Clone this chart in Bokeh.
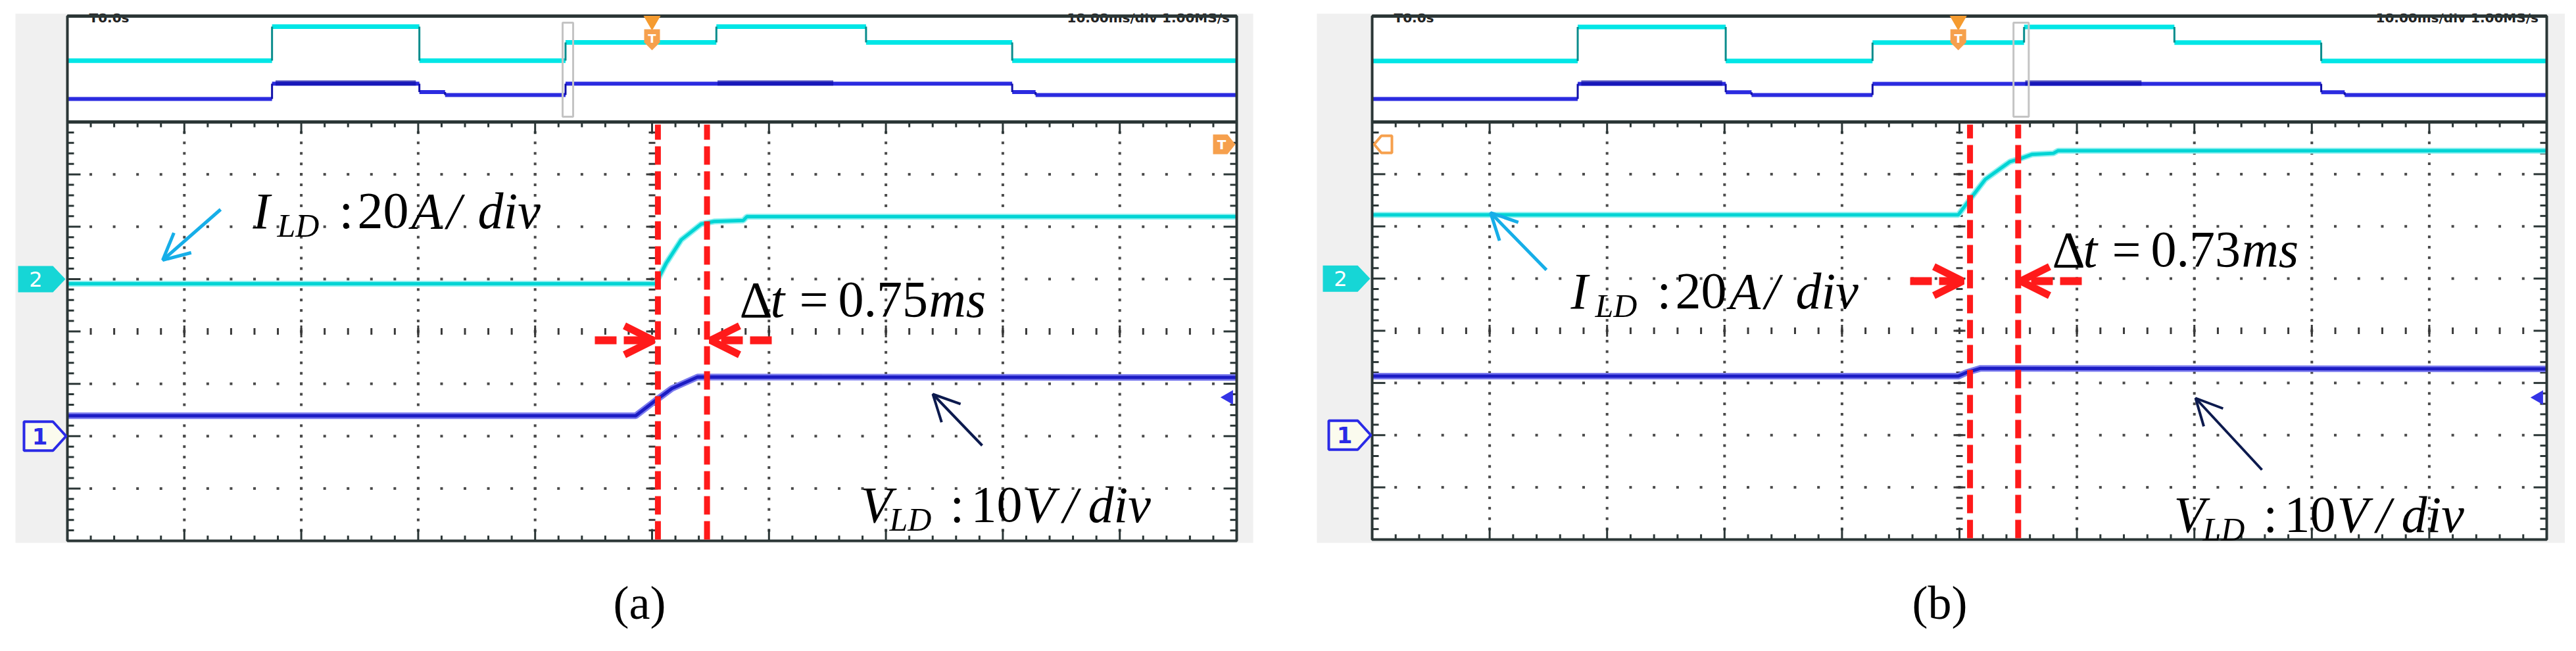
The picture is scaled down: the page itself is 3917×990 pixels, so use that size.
import numpy as np
from bokeh.plotting import figure
from bokeh.layouts import row
from bokeh.models import Range1d, Arrow, OpenHead
from bokeh.core.properties import value
from bokeh.embed import file_html
from bokeh.resources import INLINE

# ---------------- data (oscilloscope divisions) ----------------
# zoomed-out record (top strip), levels per interval, relative to strip bottom
ov_cyan_t = [0.0, 1.75, 3.01, 4.26, 5.55, 6.83, 8.08, 10.0]
ov_cyan_v = [1.17, 1.82, 1.17, 1.52, 1.82, 1.52, 1.17]
ov_blue_t = [0.0, 1.75, 3.01, 3.23, 4.26, 8.08, 8.28, 10.0]
ov_blue_v = [0.44, 0.73, 0.57, 0.515, 0.73, 0.57, 0.515]
ov_blue_noise = [(1.78, 2.98), (5.56, 6.55)]

# panel (a) main traces
a_cyan_t = [0.0, 5.03, 5.12, 5.25, 5.42, 5.53, 5.78, 5.81, 10.0]
a_cyan_v = [4.91, 4.91, 5.30, 5.75, 6.05, 6.10, 6.12, 6.19, 6.19]
a_blue_t = [0.0, 4.86, 5.03, 5.17, 5.39, 10.0]
a_blue_v = [2.39, 2.39, 2.68, 2.91, 3.13, 3.12]
a_cursors = [5.05, 5.47]
a_window = [4.235, 4.325]
a_trigger = 5.0
a_trig_level = 2.74

# panel (b) main traces
b_cyan_t = [0.0, 4.99, 5.08, 5.22, 5.43, 5.52, 5.62, 5.80, 5.84, 10.0]
b_cyan_v = [6.22, 6.22, 6.49, 6.90, 7.24, 7.30, 7.38, 7.40, 7.45, 7.45]
b_blue_t = [0.0, 4.99, 5.06, 5.18, 10.0]
b_blue_v = [3.13, 3.13, 3.20, 3.28, 3.27]
b_cursors = [5.09, 5.50]
b_window = [5.46, 5.59]
b_trigger = 4.99
b_trig_level = 2.72

ch2_ref = 5.0
ch1_ref = 2.0

CYAN = "#00e6e6"
CYAN_EDGE = "#0a8c8c"
BLUE = "#2b2be0"
BLUE_DARK = "#1010a8"
RED = "#ff1a1a"
ORANGE = "#f6a04d"
FRAME = "#2b3636"
GRAY = "#f0f0f0"
SERIF = "Liberation Serif"
BIG, SMALL = 78, 50

W, H = 1950, 972


def make_panel(g, cyan_t, cyan_v, blue_t, blue_v, cursors, window, trig, trig_level):
    L, R, T, B = g["L"], g["R"], g["T"], g["B"]

    def X(px):
        return (px - L) / (R - L) * 10.0

    def Y(py):
        return (B - py) / (B - T) * 8.0

    def dxp(n):
        return n / (R - L) * 10.0

    def dyp(n):
        return n / (B - T) * 8.0

    x0 = g["fx"]
    p = figure(width=W, height=H, x_range=Range1d(X(x0), X(x0 + W)),
               y_range=Range1d(Y(8 + H), Y(8)), output_backend="svg",
               toolbar_location=None, tools="", min_border=0,
               x_axis_location=None, y_axis_location=None,
               outline_line_color=None, background_fill_color="white",
               border_fill_color="white")
    p.xgrid.visible = False
    p.ygrid.visible = False

    top = Y(g["top"])
    gl, gr, gt, gb = g["gray"]
    p.quad(left=[X(gl)], right=[X(gr)], top=[Y(gt)], bottom=[Y(gb)],
           fill_color=GRAY, line_color=None)
    p.quad(left=[0], right=[10], bottom=[0], top=[top], fill_color="white", line_color=None)

    # cut-off status text above the top strip
    for (s, px) in g["status"]:
        p.text(x=[X(px)], y=[Y(34)], text=[s], text_font=value("DejaVu Sans"),
               text_font_size=value("20px"), text_font_style="bold", text_color="#222222",
               text_align="left", text_baseline="alphabetic")
    p.quad(left=[X(x0)], right=[X(x0 + W)], bottom=[Y(gt)], top=[Y(0)],
           fill_color="white", line_color=None)

    # graticule
    ys = np.arange(1, 40) * 0.2
    xs = np.arange(1, 50) * 0.2
    dx, dy = [], []
    for j in [1, 2, 3, 4, 6, 7, 8, 9]:
        dx += [j] * len(ys)
        dy += list(ys)
    for i in [1, 2, 3, 5, 6, 7]:
        dx += list(xs)
        dy += [i] * len(xs)
    p.scatter(x=dx, y=dy, marker="square", size=4, fill_color="#4a4a4a", line_color=None)
    p.scatter(x=[5] * len(ys), y=ys, marker="dash", size=10, line_color="#3a3a3a", line_width=3)
    p.scatter(x=xs, y=[4] * len(xs), marker="dash", angle=np.pi / 2, size=10,
              line_color="#3a3a3a", line_width=3)
    p.scatter(x=[5] * 7, y=[1, 2, 3, 4, 5, 6, 7], marker="dash", size=18,
              line_color="#3a3a3a", line_width=3)
    p.scatter(x=[1, 2, 3, 4, 6, 7, 8, 9], y=[4] * 8, marker="dash", angle=np.pi / 2, size=18,
              line_color="#3a3a3a", line_width=3)

    # border ticks
    k = np.arange(1, 50)
    tl = np.where(k % 5 == 0, dyp(18), dyp(8))
    p.segment(x0=k * 0.2, x1=k * 0.2, y0=8, y1=8 - tl, line_color=FRAME, line_width=3)
    p.segment(x0=k * 0.2, x1=k * 0.2, y0=0, y1=tl, line_color=FRAME, line_width=3)
    m = np.arange(1, 40)
    ll = np.where(m % 5 == 0, dxp(20), dxp(10))
    p.segment(x0=0, x1=ll, y0=m * 0.2, y1=m * 0.2, line_color=FRAME, line_width=3)
    p.segment(x0=10, x1=10 - ll, y0=m * 0.2, y1=m * 0.2, line_color=FRAME, line_width=3)

    # overview (top strip) traces
    base = 8.0
    ct, cv = ov_cyan_t, ov_cyan_v
    p.segment(x0=ct[:-1], x1=ct[1:], y0=[v + base for v in cv], y1=[v + base for v in cv],
              line_color=CYAN, line_width=7)
    p.segment(x0=ct[1:-1], x1=ct[1:-1], y0=[v + base for v in cv[:-1]],
              y1=[v + base for v in cv[1:]], line_color=CYAN_EDGE, line_width=3)
    bt, bv = ov_blue_t, ov_blue_v
    p.segment(x0=bt[:-1], x1=bt[1:], y0=[v + base for v in bv], y1=[v + base for v in bv],
              line_color=BLUE, line_width=6)
    p.segment(x0=bt[1:-1], x1=bt[1:-1], y0=[v + base for v in bv[:-1]],
              y1=[v + base for v in bv[1:]], line_color=BLUE_DARK, line_width=3)
    for (n0, n1) in ov_blue_noise:
        p.segment(x0=[n0], x1=[n1], y0=[0.745 + base], y1=[0.745 + base],
                  line_color=BLUE_DARK, line_width=8, line_alpha=0.7)

    # zoom window marker
    p.quad(left=[window[0]], right=[window[1]], bottom=[Y(185)], top=[Y(42)],
           fill_color=None, line_color="#c4c4c4", line_width=3)

    # main traces
    p.line(cyan_t, cyan_v, line_color="#8ef0f0", line_width=9)
    p.line(cyan_t, cyan_v, line_color="#00d4d4", line_width=5)
    p.line(blue_t, blue_v, line_color="#7b7bee", line_width=10)
    p.line(blue_t, blue_v, line_color="#1c1cc4", line_width=5)

    # frame
    p.quad(left=[0], right=[10], bottom=[0], top=[top], fill_color=None,
           line_color=FRAME, line_width=4)
    p.segment(x0=[0], x1=[10], y0=[8], y1=[8], line_color=FRAME, line_width=5)
    p.segment(x0=[0], x1=[10], y0=[top], y1=[top], line_color=FRAME, line_width=5)

    # overview trigger marker
    tx = trig
    p.scatter(x=[tx], y=[Y(39)], marker="inverted_triangle", size=26,
              fill_color="#f59b2f", line_color=None)
    p.patch(x=[tx - dxp(12), tx + dxp(12), tx + dxp(12), tx, tx - dxp(12)],
            y=[Y(52), Y(52), Y(72), Y(84), Y(72)], fill_color=ORANGE, line_color=None)
    p.text(x=[tx], y=[Y(66)], text=["T"], text_font=value("DejaVu Sans"),
           text_font_size=value("18px"), text_font_style="bold", text_color="white",
           text_align="center", text_baseline="middle")

    # channel markers
    def py_of(yd):
        return B - yd * (B - T) / 8.0

    c2 = py_of(ch2_ref)
    p.patch(x=[X(L - 75), X(L - 22), X(L - 3), X(L - 22), X(L - 75)],
            y=[Y(c2 + 20), Y(c2 + 20), Y(c2), Y(c2 - 20), Y(c2 - 20)],
            fill_color="#16d6d6", line_color=None)
    p.text(x=[X(L - 48)], y=[Y(c2)], text=["2"], text_font=value("DejaVu Sans"),
           text_font_size=value("32px"), text_color="white", text_align="center",
           text_baseline="middle")
    c1 = py_of(ch1_ref)
    p.patch(x=[X(L - 66), X(L - 22), X(L - 2), X(L - 22), X(L - 66)],
            y=[Y(c1 + 22), Y(c1 + 22), Y(c1), Y(c1 - 22), Y(c1 - 22)],
            fill_color="#fbfbee", line_color="#2a2ae6", line_width=4)
    p.text(x=[X(L - 42)], y=[Y(c1)], text=["1"], text_font=value("DejaVu Sans"),
           text_font_size=value("34px"), text_font_style="bold", text_color="#2a2ae6",
           text_align="center", text_baseline="middle")

    # trigger level marker (right edge)
    p.scatter(x=[10 - dxp(12)], y=[trig_level], marker="triangle", angle=np.pi / 2, size=22,
              fill_color="#3434e6", line_color=None)

    # orange trigger-position marker in main area
    ym = Y(227)
    if g["tpos"] == "right":
        p.patch(x=[X(R - 36), X(R - 14), X(R - 2), X(R - 14), X(R - 36)],
                y=[Y(212), Y(212), ym, Y(242), Y(242)], fill_color=ORANGE, line_color=None)
        p.text(x=[X(R - 23)], y=[ym], text=["T"], text_font=value("DejaVu Sans"),
               text_font_size=value("20px"), text_font_style="bold", text_color="white",
               text_align="center", text_baseline="middle")
    else:
        p.patch(x=[X(L + 30), X(L + 14), X(L + 3), X(L + 14), X(L + 30)],
                y=[Y(214), Y(214), ym, Y(240), Y(240)], fill_color="white",
                line_color=ORANGE, line_width=4)

    # measurement cursors
    p.segment(x0=cursors, x1=cursors, y0=[dyp(2)] * 2, y1=[8 - dyp(4)] * 2,
              line_color=RED, line_width=9, line_dash="28 10")

    # red arrows
    ay = Y(g["arrow_y"])
    xl0, xl1, xr0, xr1 = g["arrows"]
    for (s, e) in [(xl0, xl1), (xr0, xr1)]:
        p.add_layout(Arrow(x_start=X(s), y_start=ay, x_end=X(e), y_end=ay,
                           line_color=RED, line_width=12, line_dash="33 11",
                           end=OpenHead(size=44, line_color=RED, line_width=11)))

    # pointer arrows
    (cs, ce), (ns, ne) = g["pointers"]
    p.add_layout(Arrow(x_start=X(cs[0]), y_start=Y(cs[1]), x_end=X(ce[0]), y_end=Y(ce[1]),
                       line_color="#16aee8", line_width=5,
                       end=OpenHead(size=40, line_color="#16aee8", line_width=5)))
    p.add_layout(Arrow(x_start=X(ns[0]), y_start=Y(ns[1]), x_end=X(ne[0]), y_end=Y(ne[1]),
                       line_color="#0c1a4e", line_width=4,
                       end=OpenHead(size=40, line_color="#0c1a4e", line_width=4)))

    # text pieces
    for (s, px, py, size, style) in g["texts"]:
        p.text(x=[X(px)], y=[Y(py)], text=[s], text_font=value(SERIF),
               text_font_size=value(f"{size}px"), text_font_style=style,
               text_color="black", text_align="left", text_baseline="alphabetic")

    # panel caption
    cx, cy, cap = g["caption"]
    p.text(x=[X(cx)], y=[Y(cy)], text=[cap], text_font=value(SERIF),
           text_font_size=value("72px"), text_font_style="normal", text_color="black",
           text_align="center", text_baseline="middle")
    return p


def iv(x0, y0, parts):
    out = []
    for (s, dx, sub, style) in parts:
        out.append((s, x0 + dx, y0 + (22 if sub else 0), SMALL if sub else BIG, style))
    return out


I_parts = [("I", 0, False, "italic"), ("LD", 37, True, "italic"), (":", 131, False, "normal"),
           ("20", 159, False, "normal"), ("A", 241, False, "italic"), ("/", 295, False, "italic"),
           ("div", 342, False, "italic")]
V_parts = [("V", 0, False, "italic"), ("LD", 44, True, "italic"), (":", 136, False, "normal"),
           ("10", 168, False, "normal"), ("V", 248, False, "italic"), ("/", 308, False, "italic"),
           ("div", 346, False, "italic")]
T_parts = [("\u0394", 0, False, "normal"), ("t", 47, False, "italic"), ("=", 91, False, "normal"),
           ("NUM", 150, False, "normal"), ("ms", 288, False, "italic")]


def dt_parts(x0, y0, num):
    return [(num if s == "NUM" else s, x0 + dx, y0, BIG, st) for (s, dx, sub, st) in T_parts]


geom_a = dict(L=110, R=1888, T=193, B=830, top=32, gray=(31, 1913, 28, 833), fx=8,
              tpos="right", arrow_y=525, arrows=(912, 1001, 1181, 1088),
              pointers=(((343, 326), (255, 403)), ((1501, 685), (1426, 607))),
              status=[("T0.0s", 143), ("10.00ms/div  1.00MS/s", 1630)],
              texts=iv(392, 328, I_parts) + dt_parts(1132, 463, "0.75")
              + iv(1316, 775, V_parts),
              caption=(980, 924, "(a)"))
geom_b = dict(L=2094, R=3880, T=193, B=828, top=32, gray=(2010, 3912, 28, 833), fx=1958,
              tpos="left", arrow_y=435, arrows=(2912, 2992, 3173, 3080),
              pointers=(((2359, 418), (2274, 331)), ((3447, 722), (3346, 613))),
              status=[("T0.0s", 2127), ("10.00ms/div  1.00MS/s", 3620)],
              texts=iv(2396, 450, I_parts) + dt_parts(3128, 387, "0.73")
              + iv(3313, 790, V_parts),
              caption=(2957, 924, "(b)"))

pa = make_panel(geom_a, a_cyan_t, a_cyan_v, a_blue_t, a_blue_v, a_cursors, a_window,
                a_trigger, a_trig_level)
pb = make_panel(geom_b, b_cyan_t, b_cyan_v, b_blue_t, b_blue_v, b_cursors, b_window,
                b_trigger, b_trig_level)

layout = row(pa, pb, spacing=0)
open("out.html", "w").write(file_html(layout, INLINE))
